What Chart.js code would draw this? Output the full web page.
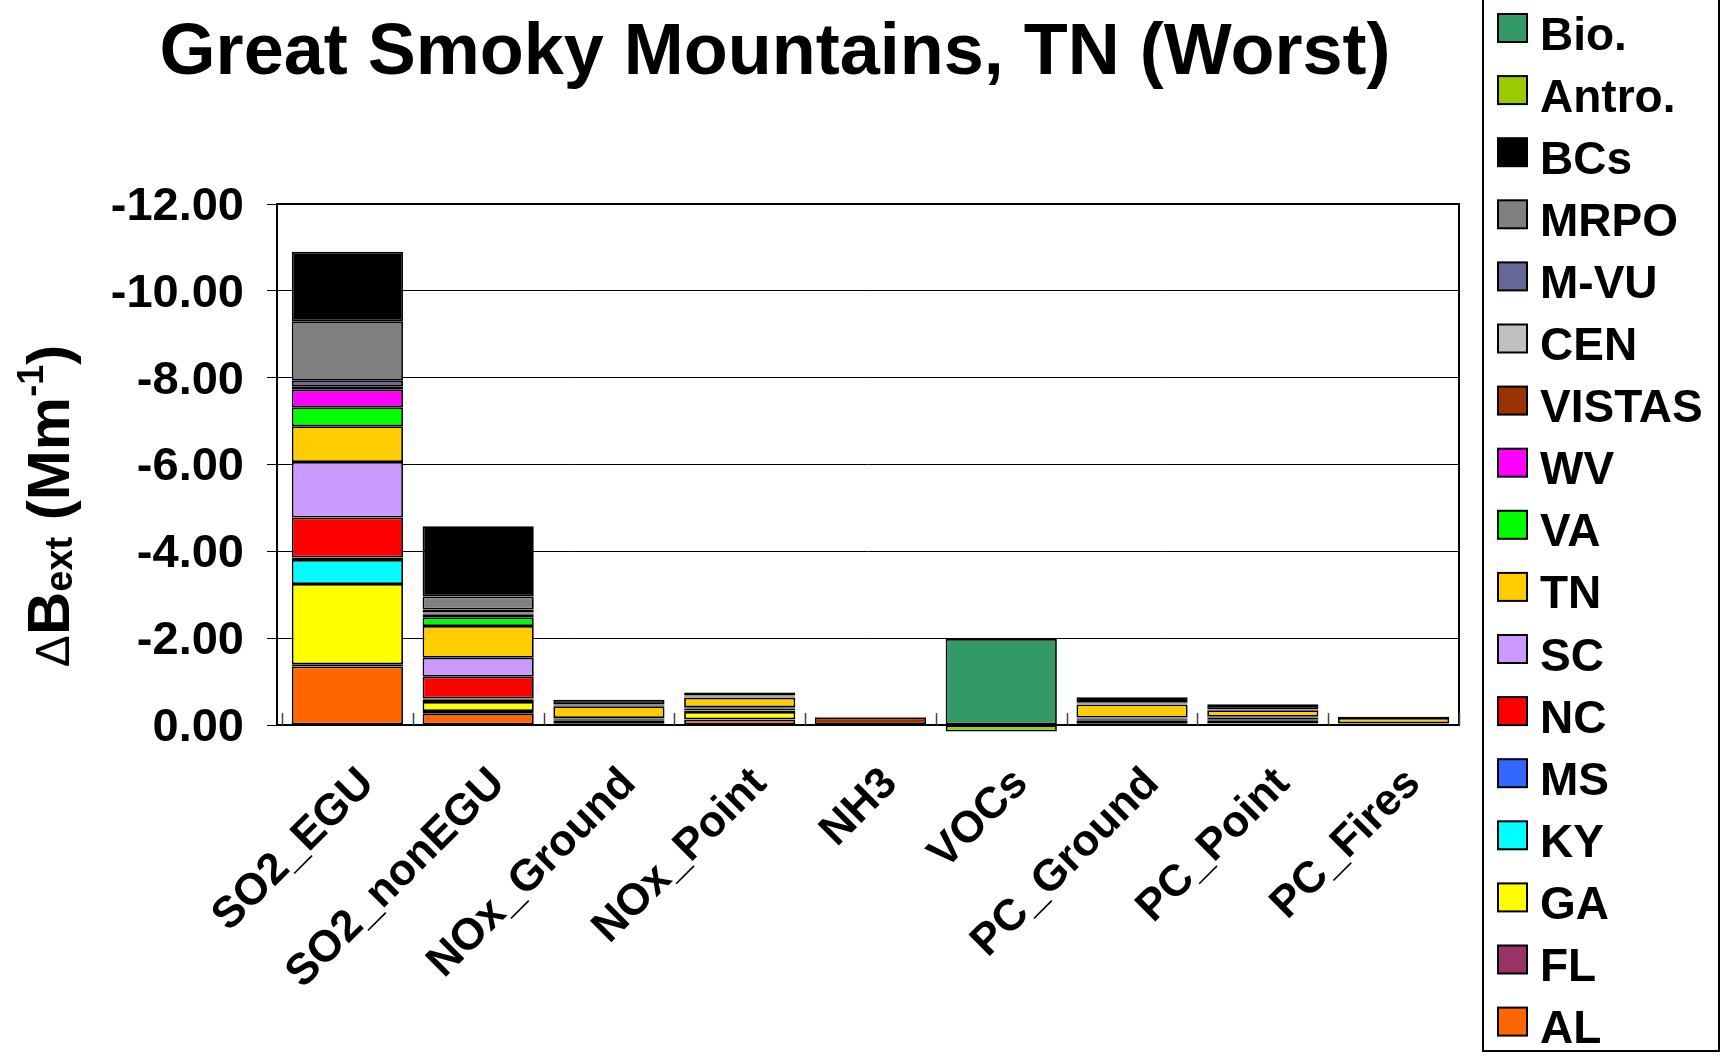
<!DOCTYPE html>
<html><head><meta charset="utf-8">
<script src="https://cdn.jsdelivr.net/npm/chart.js@4/dist/chart.umd.min.js"></script>
<style>html,body{margin:0;padding:0;background:#fff}#wrap{width:1725px;height:1064px;position:relative}canvas{display:block}</style>
</head><body><div id="wrap"><canvas id="c" width="1725" height="1064"></canvas></div>
<script>
const titleText = 'Great Smoky Mountains, TN (Worst)';
const categories = ['SO2_EGU','SO2_nonEGU','NOx_Ground','NOx_Point','NH3','VOCs','PC_Ground','PC_Point','PC_Fires'];
const yTicks = [-12, -10, -8, -6, -4, -2, 0];

// stacking order, bottom first
const AL     = [-1.35, -0.26, -0.04, -0.12,  0,     0,    -0.03, -0.03, -0.01];
const FL     = [-0.05, -0.06,  0,    -0.01,  0,     0,     0,    -0.01,  0];
const GA     = [-1.85, -0.21, -0.07, -0.17,  0,     0,    -0.07, -0.03, -0.01];
const KY     = [-0.55, -0.05, -0.02, -0.03,  0,     0,    -0.02, -0.04, -0.01];
const MS     = [-0.06, -0.03,  0,    -0.01,  0,     0,     0,    -0.02,  0];
const NC     = [-0.92, -0.50, -0.02, -0.04,  0,     0,    -0.03, -0.04, -0.01];
const SC     = [-1.28, -0.44, -0.01, -0.03,  0,     0,    -0.02, -0.02,  0];
const TN     = [-0.82, -0.73, -0.27, -0.22,  0,     0,    -0.30, -0.15, -0.12];
const VA     = [-0.44, -0.20, -0.01, -0.01,  0,     0,    -0.01, -0.01,  0];
const WV     = [-0.40, -0.07, -0.01, -0.01,  0,     0,    -0.01, -0.01,  0];
const VISTAS = [ 0,    -0.02, -0.01, -0.01, -0.17,  0,    -0.01,  0,     0];
const CEN    = [-0.08, -0.02,  0,     0,     0,     0,     0,     0,     0];
const MVU    = [-0.13, -0.07,  0,    -0.01,  0,     0,     0,     0,     0];
const MRPO   = [-1.37, -0.30, -0.01, -0.01,  0,     0,    -0.01,  0,     0];
const BCs    = [-1.60, -1.62, -0.11, -0.07, -0.02,  0,    -0.13, -0.12, -0.03];
const Antro  = [ 0,     0,     0,     0,     0,     0.15,  0,     0,     0];
const Bio    = [ 0,     0,     0,     0,     0,    -1.98,  0,     0,     0];

const seriesNames  = ['AL','FL','GA','KY','MS','NC','SC','TN','VA','WV','VISTAS','CEN','M-VU','MRPO','BCs','Antro.','Bio.'];
const seriesValues = [AL, FL, GA, KY, MS, NC, SC, TN, VA, WV, VISTAS, CEN, MVU, MRPO, BCs, Antro, Bio];
const seriesColors = ['#FF6600','#993366','#FFFF00','#00FFFF','#3366FF','#FF0000','#CC99FF','#FFCC00','#00FF00','#FF00FF','#993300','#C0C0C0','#666699','#808080','#000000','#99CC00','#339966'];

const FONT = "'Liberation Sans', Arial, sans-serif";

const datasets = seriesNames.map((n, i) => ({
  label: n,
  data: seriesValues[i],
  backgroundColor: seriesColors[i],
  borderColor: '#000',
  borderWidth: 1.75,
  borderSkipped: false,
  clip: false,
  categoryPercentage: 1.0,
  barPercentage: 0.85
}));

const decor = {
  id: 'decor',
  afterLayout(chart) {
    const xs = chart.scales.x;
    xs.left = chart.chartArea.left + 5;
    xs.configure();
  },
  afterDatasetsDraw(chart) {
    const ctx = chart.ctx, a = chart.chartArea, xs = chart.scales.x;
    ctx.save();
    ctx.strokeStyle = '#000'; ctx.lineWidth = 2;
    ctx.strokeRect(a.left, a.top, a.right - a.left, a.bottom - a.top);
    const n = categories.length, w = (xs.right - xs.left) / n;
    ctx.strokeStyle = '#444'; ctx.lineWidth = 1.5;
    for (let i = 0; i <= n; i++) {
      const x = Math.round(xs.left + i * w) + 0.5;
      ctx.beginPath(); ctx.moveTo(x, a.bottom); ctx.lineTo(x, a.bottom - 12); ctx.stroke();
    }
    ctx.restore();
  },
  afterDraw(chart) {
    const ctx = chart.ctx;
    ctx.save();
    ctx.fillStyle = '#000';
    ctx.font = 'bold 72px ' + FONT;
    ctx.textAlign = 'center'; ctx.textBaseline = 'alphabetic';
    ctx.fillText(titleText, 775, 74);

    ctx.save();
    ctx.translate(69, 506);
    ctx.rotate(-Math.PI / 2);
    ctx.textAlign = 'left';
    const parts = [
      {t: '\u0394', f: '48px ' + FONT, dy: 0},
      {t: 'B', f: 'bold 60px ' + FONT, dy: 0},
      {t: 'ext', f: 'bold 38px ' + FONT, dy: 3},
      {t: ' (Mm', f: 'bold 60px ' + FONT, dy: 0},
      {t: '-1', f: 'bold 36px ' + FONT, dy: -26},
      {t: ')', f: 'bold 60px ' + FONT, dy: 0}
    ];
    let total = 0;
    parts.forEach(p => { ctx.font = p.f; p.w = ctx.measureText(p.t).width; total += p.w; });
    let x = -total / 2;
    parts.forEach(p => { ctx.font = p.f; ctx.fillText(p.t, x, p.dy); x += p.w; });
    ctx.restore();

    ctx.strokeStyle = '#000'; ctx.lineWidth = 2;
    ctx.strokeRect(1483, -5, 236, 1056);
    ctx.font = 'bold 46px ' + FONT;
    ctx.textAlign = 'left'; ctx.textBaseline = 'alphabetic';
    const ds = chart.data.datasets.slice().reverse();
    ds.forEach((d, i) => {
      const cy = 33 + i * 62.1;
      ctx.fillStyle = d.backgroundColor;
      ctx.fillRect(1498, cy - 19, 29, 28);
      ctx.lineWidth = 2; ctx.strokeStyle = '#000';
      ctx.strokeRect(1498, cy - 19, 29, 28);
      ctx.fillStyle = '#000';
      ctx.fillText(d.label, 1540, cy + 16.5);
    });
    ctx.restore();
  }
};

new Chart(document.getElementById('c'), {
  type: 'bar',
  data: { labels: categories, datasets },
  options: {
    responsive: false,
    animation: false,
    devicePixelRatio: 1,
    layout: { padding: { top: 204, right: 266, left: 0, bottom: 0 } },
    plugins: { legend: { display: false }, title: { display: false }, tooltip: { enabled: false } },
    scales: {
      x: {
        stacked: true,
        grid: { display: false },
        border: { display: true, color: '#000', width: 2 },
        ticks: {
          color: '#000', font: { family: FONT, size: 44, weight: 'bold' },
          minRotation: 45, maxRotation: 45, autoSkip: false, padding: 25, labelOffset: 20
        },
        afterFit(s) { s.height = 339; }
      },
      y: {
        stacked: true,
        reverse: true,
        min: -12, max: 0,
        afterBuildTicks(s) { s.ticks = yTicks.map(v => ({ value: v })); },
        grid: { color: '#000', lineWidth: 1, tickLength: 10, drawTicks: true },
        border: { display: true, color: '#000', width: 2 },
        ticks: {
          color: '#000', font: { family: FONT, size: 47, weight: 'bold' },
          padding: 23, labelOffset: 3,
          callback: v => Number(v).toFixed(2)
        },
        afterFit(s) { s.width = 277; }
      }
    }
  },
  plugins: [decor]
});
</script></body></html>
